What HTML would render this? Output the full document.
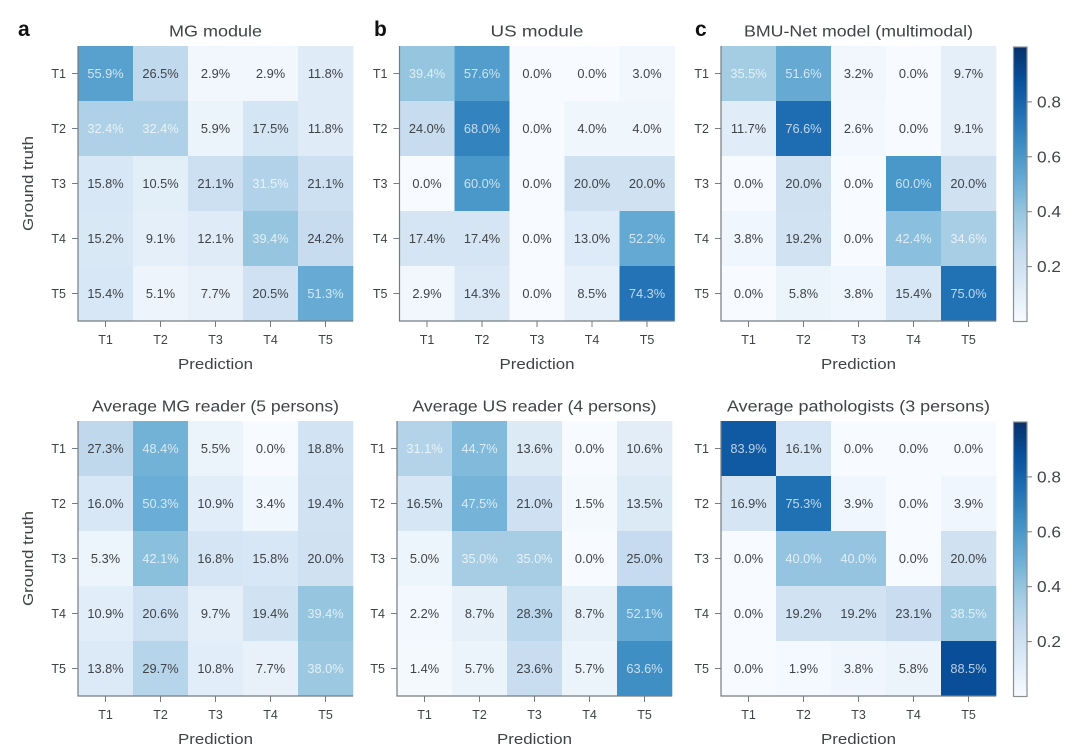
<!DOCTYPE html>
<html lang="en">
<head>
<meta charset="utf-8">
<title>BMU-Net confusion matrices</title>
<style>
html,body{margin:0;padding:0;background:#fff;width:1080px;height:746px;overflow:hidden}
svg{display:block;filter:blur(0.35px)}
text{font-family:"Liberation Sans",sans-serif;fill:#3f4347}
</style>
</head>
<body>
<svg id="figure" width="1080" height="746" viewBox="0 0 1080 746" xmlns="http://www.w3.org/2000/svg"></svg>
<script>
const categories = ['T1', 'T2', 'T3', 'T4', 'T5'];
const colorbarTicks = [0.2, 0.4, 0.6, 0.8];
const panelTitles = ['MG module', 'US module', 'BMU-Net model (multimodal)', 'Average MG reader (5 persons)', 'Average US reader (4 persons)', 'Average pathologists (3 persons)'];
const panelLetters = ['a', 'b', 'c'];

const mgModule = [
  [55.9, 26.5, 2.9, 2.9, 11.8],
  [32.4, 32.4, 5.9, 17.5, 11.8],
  [15.8, 10.5, 21.1, 31.5, 21.1],
  [15.2, 9.1, 12.1, 39.4, 24.2],
  [15.4, 5.1, 7.7, 20.5, 51.3]
];
const usModule = [
  [39.4, 57.6, 0.0, 0.0, 3.0],
  [24.0, 68.0, 0.0, 4.0, 4.0],
  [0.0, 60.0, 0.0, 20.0, 20.0],
  [17.4, 17.4, 0.0, 13.0, 52.2],
  [2.9, 14.3, 0.0, 8.5, 74.3]
];
const bmuNetModel = [
  [35.5, 51.6, 3.2, 0.0, 9.7],
  [11.7, 76.6, 2.6, 0.0, 9.1],
  [0.0, 20.0, 0.0, 60.0, 20.0],
  [3.8, 19.2, 0.0, 42.4, 34.6],
  [0.0, 5.8, 3.8, 15.4, 75.0]
];
const mgReader = [
  [27.3, 48.4, 5.5, 0.0, 18.8],
  [16.0, 50.3, 10.9, 3.4, 19.4],
  [5.3, 42.1, 16.8, 15.8, 20.0],
  [10.9, 20.6, 9.7, 19.4, 39.4],
  [13.8, 29.7, 10.8, 7.7, 38.0]
];
const usReader = [
  [31.1, 44.7, 13.6, 0.0, 10.6],
  [16.5, 47.5, 21.0, 1.5, 13.5],
  [5.0, 35.0, 35.0, 0.0, 25.0],
  [2.2, 8.7, 28.3, 8.7, 52.1],
  [1.4, 5.7, 23.6, 5.7, 63.6]
];
const pathologists = [
  [83.9, 16.1, 0.0, 0.0, 0.0],
  [16.9, 75.3, 3.9, 0.0, 3.9],
  [0.0, 40.0, 40.0, 0.0, 20.0],
  [0.0, 19.2, 19.2, 23.1, 38.5],
  [0.0, 1.9, 3.8, 5.8, 88.5]
];
const panelValues = [mgModule, usModule, bmuNetModel, mgReader, usReader, pathologists];

const blues = ['#f7fbff', '#deebf7', '#c6dbef', '#9ecae1', '#6baed6', '#4292c6', '#2171b5', '#08519c', '#08306b'];
const svg = document.getElementById('figure');
const NS = 'http://www.w3.org/2000/svg';

function make(tag, attrs, parent) {
  const el = document.createElementNS(NS, tag);
  for (const k in attrs) el.setAttribute(k, attrs[k]);
  parent.appendChild(el);
  return el;
}
function hexToRgb(h) {
  return [1, 3, 5].map(i => parseInt(h.substr(i, 2), 16));
}
function colorFor(v) {
  const t = Math.max(0, Math.min(1, v)) * (blues.length - 1);
  const i = Math.min(Math.floor(t), blues.length - 2);
  const a = hexToRgb(blues[i]);
  const b = hexToRgb(blues[i + 1]);
  const f = t - i;
  return 'rgb(' + a.map((c, n) => Math.round(c + (b[n] - c) * f)).join(',') + ')';
}
function slug(s) {
  return s.toLowerCase().replace(/[^a-z0-9]+/g, '-').replace(/(^-|-$)/g, '');
}

const SIDE = 275;
const frames = [
  { x: 78, y: 46 }, { x: 399.5, y: 46 }, { x: 721, y: 46 },
  { x: 78, y: 421 }, { x: 397, y: 421 }, { x: 721, y: 421 }
];
const titleWidths = [93, 93, 229, 247, 244, 263];

panelValues.forEach((matrix, p) => {
  const f = frames[p];
  const band = SIDE / categories.length;
  const xScale = i => f.x + i * band;
  const yScale = i => f.y + i * band;
  const name = slug(panelTitles[p]);
  const g = make('g', {}, svg);
  
  

  matrix.forEach((row, r) => {
    row.forEach((value, c) => {
      const cell = make('rect', { x: xScale(c), y: yScale(r), width: band + 0.3, height: band + 0.3, fill: colorFor(value / 100) }, g);
      
      
      const label = make('text', { x: xScale(c) + band / 2, y: yScale(r) + band / 2 + 4.5, 'text-anchor': 'middle', 'font-size': 12.8 }, g);
      label.textContent = value.toFixed(1) + '%';
      if (value >= 30) {
        label.style.fill = 'rgba(255,255,255,0.72)';
      }
      
      
    });
  });

  const spines = make('path', { d: 'M' + f.x + ' ' + f.y + 'V' + (f.y + SIDE) + 'H' + (f.x + SIDE), fill: 'none', stroke: '#777c80', 'stroke-width': 1.2 }, g);
  
  

  categories.forEach((cat, i) => {
    const tx = xScale(i) + band / 2;
    const ty = yScale(i) + band / 2;
    const xt = make('line', { x1: tx, x2: tx, y1: f.y + SIDE, y2: f.y + SIDE + 6, stroke: '#777c80', 'stroke-width': 1 }, g);
    
    
    const yt = make('line', { x1: f.x - 6, x2: f.x, y1: ty, y2: ty, stroke: '#777c80', 'stroke-width': 1 }, g);
    
    
    const xl = make('text', { x: tx, y: f.y + SIDE + 23, 'text-anchor': 'middle', 'font-size': 12.5 }, g);
    xl.textContent = cat;
    
    
    const yl = make('text', { x: f.x - 12, y: ty + 4.5, 'text-anchor': 'end', 'font-size': 12.5 }, g);
    yl.textContent = cat;
    
    
  });

  const title = make('text', { x: f.x + SIDE / 2, y: f.y - 9.5, 'text-anchor': 'middle', 'font-size': 15.5, textLength: titleWidths[p], lengthAdjust: 'spacingAndGlyphs' }, g);
  title.textContent = panelTitles[p];
  
  

  const xTitle = make('text', { x: f.x + SIDE / 2, y: f.y + SIDE + 48, 'text-anchor': 'middle', 'font-size': 15, textLength: 75, lengthAdjust: 'spacingAndGlyphs' }, g);
  xTitle.textContent = 'Prediction';
  
  

  if (p % 3 === 0) {
    const cy = f.y + SIDE / 2;
    const yTitle = make('text', { x: 33, y: cy, 'text-anchor': 'middle', 'font-size': 15, textLength: 95, lengthAdjust: 'spacingAndGlyphs', transform: 'rotate(-90 33 ' + cy + ')' }, g);
    yTitle.textContent = 'Ground truth';
    
    
  }

  if (p < 3) {
    const letter = make('text', { x: [18, 374, 695][p], y: 36, 'font-size': 21, 'font-weight': 'bold' }, g);
    letter.textContent = panelLetters[p];
    letter.style.fill = '#111';
    
    
  }
});

const defs = make('defs', {}, svg);
const grad = make('linearGradient', { id: 'blues-gradient', x1: 0, y1: 1, x2: 0, y2: 0 }, defs);
blues.forEach((c, i) => {
  make('stop', { offset: i / (blues.length - 1), 'stop-color': c }, grad);
});

[47, 422].forEach((top, n) => {
  const g = make('g', {}, svg);
  
  
  const H = 274.5;
  const left = 1013.5;
  const W = 13.5;
  const bar = make('rect', { x: left, y: top, width: W, height: H, fill: 'url(#blues-gradient)', stroke: '#8b8f93', 'stroke-width': 1.2 }, g);
  
  
  colorbarTicks.forEach(t => {
    const y = top + H - t * H;
    const tick = make('line', { x1: left + W, x2: left + W + 5, y1: y, y2: y, stroke: '#777c80', 'stroke-width': 1 }, g);
    
    
    const lab = make('text', { x: left + W + 10, y: y + 5.5, 'font-size': 15.5, textLength: 24, lengthAdjust: 'spacingAndGlyphs' }, g);
    lab.textContent = t.toFixed(1);
    
    
  });
});
</script>
</body>
</html>
